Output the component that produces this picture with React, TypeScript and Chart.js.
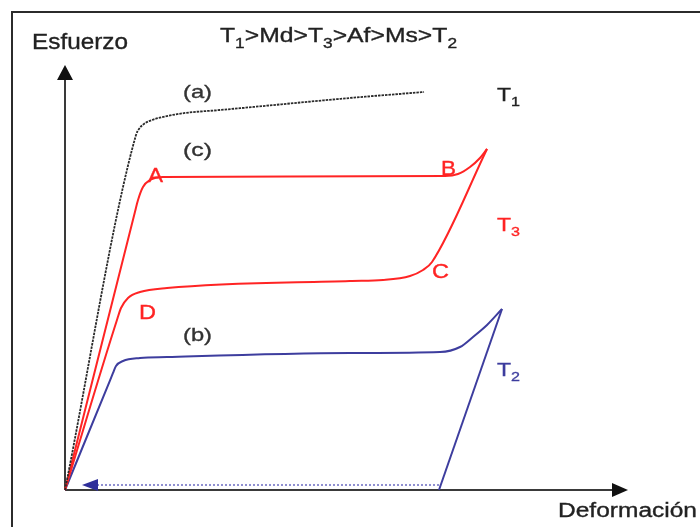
import React, { useEffect, useRef } from "react";
import { Chart, registerables } from "chart.js";

Chart.register(...registerables);

// ---- Data (strain = x, stress = y, arbitrary units) ----
// Curve (a): T1 > Md, plastic deformation
const curveAStrain = [0, 12.61, 13.14, 14.03, 15.45, 17.76, 21.31, 27.53, 50.62, 63.77];
const curveAStress = [0, 83.53, 84.94, 86.12, 87.06, 87.88, 88.71, 89.41, 92.24, 93.65];

// Curve (c): T3, superelastic loading (O -> A -> B -> peak)
const curveCLoadStrain = [0, 12.4, 12.97, 13.85, 15.1, 17.41, 40.0, 67.5, 69.8, 71.94, 73.71, 74.96];
const curveCLoadStress = [0, 65.3, 68.24, 71.29, 72.94, 73.65, 73.75, 73.88, 74.35, 76.0, 78.12, 80.24];

// Curve (c): T3, unloading (O <- D <- C <- peak), ordered by strain
const curveCUnloadStrain = [0, 9.3, 9.95, 11.19, 13.32, 18.12, 50.62, 56.48, 61.28, 63.59, 65.19, 74.96];
const curveCUnloadStress = [0, 40.3, 42.82, 45.18, 46.59, 47.53, 49.18, 49.41, 50.35, 51.76, 53.65, 80.24];

// Curve (b): T2, loading
const curveBLoadStrain = [0, 8.0, 8.53, 9.06, 10.3, 13.32, 18.12, 50.62, 66.61, 70.16, 72.47, 74.96, 77.62];
const curveBLoadStress = [0, 25.8, 27.53, 29.18, 30.35, 31.06, 31.29, 32.24, 32.47, 33.65, 36.0, 38.82, 42.59];

// Curve (b): T2, elastic unloading
const curveBUnloadStrain = [77.62, 66.43];
const curveBUnloadStress = [42.59, 0];

// Recovery on heating (dotted return line)
const recoveryStrain = [66.43, 5.86];
const recoveryStress = [1.18, 1.18];

// Text
const titleParts: [string, boolean][] = [
  ["T", false], ["1", true], [">Md>T", false], ["3", true], [">Af>Ms>T", false], ["2", true],
];
const yAxisLabel = "Esfuerzo";
const xAxisLabel = "Deformación";
const curveTags = ["(a)", "(c)", "(b)"];
const pointTags = ["A", "B", "C", "D"];
const tempTags = ["1", "3", "2"];

const FAMILY = '"Liberation Sans", Arial, Helvetica, sans-serif';
const RED = "#ff2424";
const BLUE = "#3d3d9e";
const DARK = "#2b2b2b";

function zip(xs: number[], ys: number[]) {
  return xs.map((x, i) => ({ x, y: ys[i] }));
}

function drawRich(
  ctx: CanvasRenderingContext2D,
  parts: [string, boolean][],
  x: number,
  baseline: number,
  size: number,
  color: string,
  targetWidth?: number,
  center = false
) {
  ctx.save();
  let w = 0;
  for (const [t, sub] of parts) {
    ctx.font = `${sub ? size * 0.7 : size}px ${FAMILY}`;
    w += ctx.measureText(t).width;
  }
  const sx = targetWidth ? targetWidth / w : 1;
  const startX = center ? x - (w * sx) / 2 : x;
  ctx.translate(startX, baseline);
  ctx.scale(sx, 1);
  ctx.fillStyle = color;
  ctx.strokeStyle = color;
  ctx.lineWidth = 0.35;
  ctx.textAlign = "left";
  ctx.textBaseline = "alphabetic";
  let cx = 0;
  for (const [t, sub] of parts) {
    ctx.font = `${sub ? size * 0.7 : size}px ${FAMILY}`;
    const yy = sub ? size * 0.27 : 0;
    ctx.fillText(t, cx, yy);
    ctx.strokeText(t, cx, yy);
    cx += ctx.measureText(t).width;
  }
  ctx.restore();
}

const decorPlugin = {
  id: "decor",
  beforeDatasetsDraw(chart: any) {
    const ctx: CanvasRenderingContext2D = chart.ctx;
    const xs = chart.scales.x;
    const ys = chart.scales.y;
    const ox = xs.getPixelForValue(0);
    const oy = ys.getPixelForValue(0);
    const right = chart.chartArea.right;
    const top = chart.chartArea.top;
    ctx.save();
    // outer frame
    ctx.strokeStyle = DARK;
    ctx.lineWidth = 2;
    ctx.strokeRect(12, 12, 800, 600);
    // axes
    ctx.strokeStyle = "#3a3a3a";
    ctx.lineWidth = 2;
    ctx.beginPath();
    ctx.moveTo(ox, oy);
    ctx.lineTo(ox, top + 14);
    ctx.moveTo(ox, oy);
    ctx.lineTo(right - 15, oy);
    ctx.stroke();
    ctx.fillStyle = "#111";
    ctx.beginPath();
    ctx.moveTo(ox, top);
    ctx.lineTo(ox - 8, top + 15);
    ctx.lineTo(ox + 8, top + 15);
    ctx.closePath();
    ctx.fill();
    ctx.beginPath();
    ctx.moveTo(right, oy);
    ctx.lineTo(right - 16, oy - 7);
    ctx.lineTo(right - 16, oy + 7);
    ctx.closePath();
    ctx.fill();
    ctx.restore();

    // title and axis names
    drawRich(ctx, titleParts, 220, 42, 21, "#222", 237);
    drawRich(ctx, [[yAxisLabel, false]], 32, 49, 22, "#222", 96);
    drawRich(ctx, [[xAxisLabel, false]], 558, 517, 20, "#222", 139);
  },
  afterDatasetsDraw(chart: any) {
    const ctx: CanvasRenderingContext2D = chart.ctx;
    const xs = chart.scales.x;
    const ys = chart.scales.y;
    const px = (v: number) => xs.getPixelForValue(v);
    const py = (v: number) => ys.getPixelForValue(v);

    // return arrow head on recovery line
    const tipX = px(3.02);
    const baseX = px(recoveryStrain[1]);
    const ry = py(recoveryStress[1]);
    ctx.save();
    ctx.fillStyle = "#2f2f9a";
    ctx.beginPath();
    ctx.moveTo(tipX, ry);
    ctx.lineTo(baseX, ry - 6);
    ctx.lineTo(baseX, ry + 6);
    ctx.closePath();
    ctx.fill();
    ctx.restore();

    // curve tags (a), (c), (b)
    const tagAnchors = [
      [23.53, 93.41],
      [23.53, 79.65],
      [23.53, 36.24],
    ];
    curveTags.forEach((t, i) => {
      const [x, y] = tagAnchors[i];
      drawRich(ctx, [[t, false]], px(x), py(y) + 4.9, 19, "#333", 29, true);
    });

    // point tags A-D
    const ptAnchors = [
      [16.07, 74.24, 15],
      [68.12, 75.88, 15],
      [66.7, 51.65, 17],
      [14.65, 41.88, 17],
    ];
    pointTags.forEach((t, i) => {
      const [x, y, w] = ptAnchors[i];
      drawRich(ctx, [[t, false]], px(x), py(y) + 7.2, 20, RED, w, true);
    });

    // temperature tags T1, T3, T2
    const tAnchors = [
      [76.73, 91.53, "#222"],
      [76.73, 60.94, RED],
      [76.73, 26.82, BLUE],
    ] as [number, number, string][];
    tempTags.forEach((t, i) => {
      const [x, y, c] = tAnchors[i];
      drawRich(ctx, [["T", false], [t, true]], px(x), py(y), 19, c, 23);
    });
  },
};

export default function App() {
  const canvasRef = useRef<HTMLCanvasElement | null>(null);

  useEffect(() => {
    if (!canvasRef.current) return;
    const common = {
      showLine: true,
      pointRadius: 0,
      pointHoverRadius: 0,
      clip: false as any,
    };
    const chart = new Chart(canvasRef.current, {
      type: "scatter",
      data: {
        datasets: [
          {
            ...common,
            label: "(a) T1",
            data: zip(curveAStrain, curveAStress),
            borderColor: "#2a2a2a",
            borderWidth: 1.8,
            borderDash: [2.5, 1],
            cubicInterpolationMode: "monotone",
          },
          {
            ...common,
            label: "(c) T3 carga",
            data: zip(curveCLoadStrain, curveCLoadStress),
            borderColor: RED,
            borderWidth: 2,
            cubicInterpolationMode: "monotone",
          },
          {
            ...common,
            label: "(c) T3 descarga",
            data: zip(curveCUnloadStrain, curveCUnloadStress),
            borderColor: RED,
            borderWidth: 2,
            cubicInterpolationMode: "monotone",
          },
          {
            ...common,
            label: "(b) T2 carga",
            data: zip(curveBLoadStrain, curveBLoadStress),
            borderColor: BLUE,
            borderWidth: 2,
            cubicInterpolationMode: "monotone",
          },
          {
            ...common,
            label: "(b) T2 descarga",
            data: zip(curveBUnloadStrain, curveBUnloadStress),
            borderColor: BLUE,
            borderWidth: 2,
          },
          {
            ...common,
            label: "recuperación",
            data: zip(recoveryStrain, recoveryStress),
            borderColor: "#8f8fd0",
            borderWidth: 2,
            borderDash: [2, 2],
          },
        ] as any,
      },
      options: {
        animation: false,
        responsive: false,
        devicePixelRatio: 1,
        layout: { padding: { left: 65, right: 72, top: 65, bottom: 37 } },
        plugins: {
          legend: { display: false },
          tooltip: { enabled: false },
          title: { display: false },
        },
        events: [],
        scales: {
          x: { type: "linear", min: 0, max: 100, display: false, grid: { display: false } },
          y: { type: "linear", min: 0, max: 100, display: false, grid: { display: false } },
        },
      },
      plugins: [decorPlugin],
    });
    return () => chart.destroy();
  }, []);

  return (
    <div style={{ position: "absolute", left: 0, top: 0, width: 700, height: 527, background: "#fff" }}>
      <canvas ref={canvasRef} width={700} height={527} style={{ display: "block" }} />
    </div>
  );
}
